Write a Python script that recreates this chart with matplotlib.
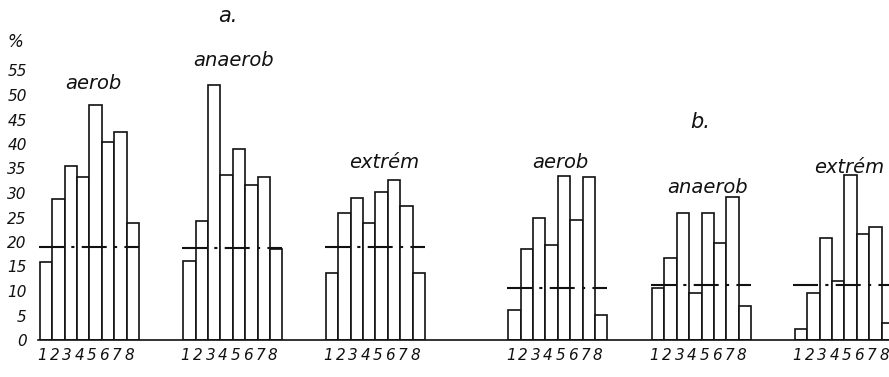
import matplotlib.pyplot as plt
import numpy as np

# two panels (a, b), three conditions each, 8 classes per condition, values in %
groups = ["aerob", "anaerob", "extrém", "aerob", "anaerob", "extrém"]
classes = ["1", "2", "3", "4", "5", "6", "7", "8"]
a_aerob = [16, 28.7, 35.5, 33.2, 48, 40.5, 42.4, 23.8]
a_anaerob = [16.2, 24.2, 52.1, 33.7, 39, 31.6, 33.3, 18.5]
a_extrem = [13.6, 25.9, 29, 23.9, 30.3, 32.7, 27.3, 13.6]
b_aerob = [6.2, 18.5, 25, 19.3, 33.5, 24.4, 33.3, 5.2]
b_anaerob = [10.7, 16.8, 25.9, 9.6, 25.9, 19.7, 29.1, 6.9]
b_extrem = [2.2, 9.5, 20.8, 12.1, 33.6, 21.7, 23, 3.4]
means = [19, 18.7, 18.9, 10.7, 11.2, 11.2]
yticks = list(range(0, 60, 5))

series = [a_aerob, a_anaerob, a_extrem, b_aerob, b_anaerob, b_extrem]

# layout
starts = [0.15, 11.7, 23.2, 37.9, 49.5, 61.0]
label_y = [52.3, 57.0, 36.3, 36.3, 31.2, 35.2]
label_dx = [4.3, 4.1, 4.7, 4.2, 4.5, 4.4]

fig = plt.figure(figsize=(8.89, 3.77), dpi=100)
ax = fig.add_axes([38 / 889, 37 / 377, 1 - 38 / 889, 294 / 377])
ax.set_xlim(0, 68.6)
ax.set_ylim(0, 60)

txt = dict(family="DejaVu Sans", style="italic", color="#111111")

for s, vals, m, name, ly, dx in zip(starts, series, means, groups, label_y, label_dx):
    x = s + np.arange(len(vals))
    ax.bar(x, vals, width=1.0, align="edge", facecolor="white",
           edgecolor="#111111", linewidth=1.2)
    ax.plot([s - 0.1, s + 8], [m, m], color="#111111", linewidth=1.5,
            dashes=[12, 3.5, 1.5, 3.5])
    ax.text(s + dx, ly, name, ha="center", va="center", fontsize=14, **txt)
    for xi, c in zip(x, classes):
        ax.text(xi + 0.2, -3.2, c, ha="center", va="center", fontsize=11,
                clip_on=False, **txt)

ax.text(15.3, 66.2, "a.", ha="center", va="center", fontsize=15,
        clip_on=False, **txt)
ax.text(53.4, 44.4, "b.", ha="center", va="center", fontsize=15, **txt)
fig.text(15 / 889, 1 - 42 / 377, "%", ha="center", va="center",
         fontsize=12, **txt)

ax.set_yticks(yticks)
ax.set_yticklabels([str(t) for t in yticks], fontsize=11, **txt)
ax.tick_params(axis="y", length=0, pad=8)
ax.set_xticks([])
for side in ["top", "right", "left"]:
    ax.spines[side].set_visible(False)
ax.spines["bottom"].set_linewidth(1.2)
ax.spines["bottom"].set_color("#111111")

fig.savefig("out.png", dpi=100)
